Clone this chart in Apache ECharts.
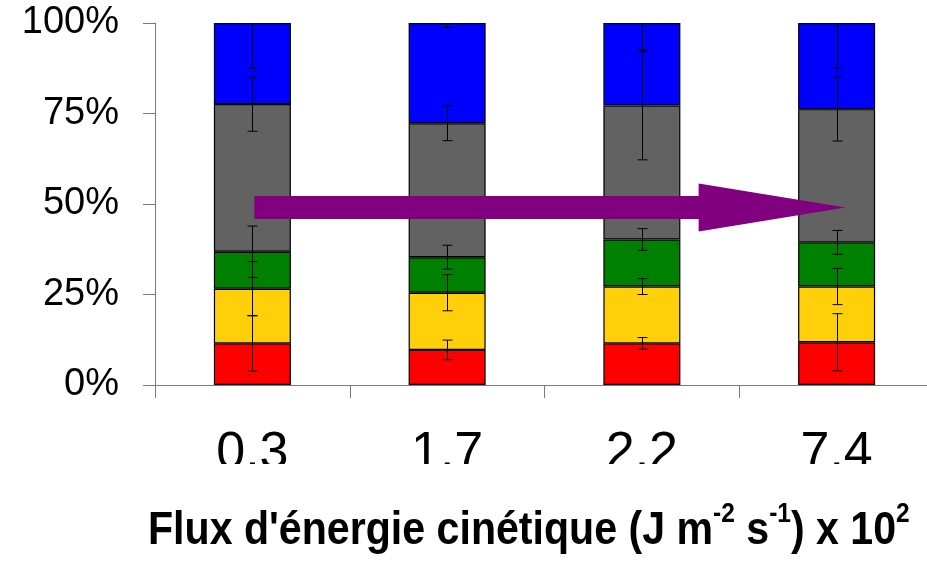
<!DOCTYPE html>
<html>
<head>
<meta charset="utf-8">
<title>Flux d'énergie cinétique</title>
<script src="https://cdn.jsdelivr.net/npm/echarts@6/dist/echarts.min.js"></script>
<style>
    html, body { margin: 0; padding: 0; background: #fff; overflow: hidden; }
    /* the original plot runs a few pixels past the right edge of the picture */
    #chart { width: 934px; height: 564px; }
</style>
</head>
<body>
<div id="chart"></div>
<script type="text/javascript">
    // x categories (flux x 10^2)
    var categories = ['0.3', '1.7', '2.2', '7.4'];

    // stacked shares (%), bottom to top
    var redValues    = [11.5,  9.7, 11.5, 11.8];
    var yellowValues = [15.1, 15.8, 15.7, 15.4];
    var greenValues  = [10.2,  9.8, 13.0, 12.2];
    var greyValues   = [40.8, 37.0, 37.0, 36.8];
    var blueValues   = [22.4, 27.7, 22.8, 23.8];

    // error bar half-widths (%), drawn at the top of each segment
    var redErr    = [7.7, 2.7, 1.6, 7.9];
    var yellowErr = [7.5, 5.0, 2.2, 5.0];
    var greenErr  = [7.1, 3.3, 3.0, 3.3];
    var greyErr   = [7.5, 4.8, 15.0, 8.8];
    var blueErr   = [12.5, 1.2, 7.5, 12.5];

    // level of the trend arrow (%)
    var arrowLevel = 49;

    var layers = [
        { name: 'rouge', color: '#ff0000', values: redValues, err: redErr },
        { name: 'jaune', color: '#ffd00a', values: yellowValues, err: yellowErr },
        { name: 'vert', color: '#008000', values: greenValues, err: greenErr },
        { name: 'gris', color: '#626262', values: greyValues, err: greyErr },
        { name: 'bleu', color: '#0000ff', values: blueValues, err: blueErr }
    ];

    var errData = [];
    categories.forEach(function (c, i) {
        var top = 0;
        layers.forEach(function (l) {
            top += l.values[i];
            errData.push([i, top, l.err[i]]);
        });
    });

    var axisColor = '#7a7a7a';
    var labelFont = "'Liberation Sans', Arial, sans-serif";

    function renderErr(params, api) {
        var i = api.value(0), top = api.value(1), e = api.value(2);
        var hi = Math.min(top + e, 100), lo = Math.max(top - e, 0);
        var pHi = api.coord([i, hi]), pLo = api.coord([i, lo]);
        var x = Math.round(pHi[0]) + 0.5;
        var half = 5;
        var st = { stroke: '#000', lineWidth: 1 };
        var kids = [{ type: 'line', shape: { x1: x, y1: pHi[1], x2: x, y2: pLo[1] }, style: st }];
        if (top + e < 99.9) {
            kids.push({ type: 'line', shape: { x1: x - half, y1: pHi[1], x2: x + half, y2: pHi[1] }, style: st });
        }
        if (top - e > 0) {
            kids.push({ type: 'line', shape: { x1: x - half, y1: pLo[1], x2: x + half, y2: pLo[1] }, style: st });
        }
        return { type: 'group', children: kids };
    }

    var series = layers.map(function (l) {
        return {
            name: l.name,
            type: 'bar',
            stack: 'total',
            barWidth: 77,
            data: l.values,
            itemStyle: { color: l.color, borderColor: '#000', borderWidth: 1.2 }
        };
    });
    series.push({
        name: 'erreur',
        type: 'custom',
        renderItem: renderErr,
        data: errData,
        z: 5
    });

    var chart = echarts.init(document.getElementById('chart'), null, { renderer: 'canvas' });
    chart.setOption({
        animation: false,
        backgroundColor: '#fff',
        grid: { left: 155, right: 0, top: 23, bottom: 179 },
        xAxis: {
            type: 'category',
            data: categories,
            axisLine: { lineStyle: { color: axisColor, width: 1 } },
            axisTick: { show: true, length: 13, lineStyle: { color: axisColor } },
            axisLabel: {
                fontFamily: labelFont,
                fontSize: 52,
                margin: 43,
                color: '#000'
            }
        },
        yAxis: {
            type: 'value',
            min: 0,
            max: 100,
            interval: 25,
            axisLine: { show: true, lineStyle: { color: axisColor, width: 1 } },
            axisTick: { show: true, length: 12, lineStyle: { color: axisColor } },
            splitLine: { show: false },
            axisLabel: {
                formatter: '{value}%',
                fontFamily: labelFont,
                fontSize: 38,
                margin: 36,
                color: '#000'
            }
        },
        series: series
    });

    // trend arrow, placed from the data coordinates of the first and last bars
    var p0 = chart.convertToPixel({ xAxisIndex: 0, yAxisIndex: 0 }, [0, arrowLevel]);
    var p1 = chart.convertToPixel({ xAxisIndex: 0, yAxisIndex: 0 }, [3, arrowLevel]);
    var tailX = p0[0] + 2, tipX = p1[0] + 9, baseX = tipX - 147, y = p0[1];
    chart.setOption({
        graphic: [
            {
                type: 'polygon',
                z: 50,
                shape: {
                    points: [
                        [tailX, y - 11.5], [baseX, y - 11.5], [baseX, y - 24], [tipX, y],
                        [baseX, y + 24], [baseX, y + 11.5], [tailX, y + 11.5]
                    ]
                },
                style: { fill: '#800080' }
            },
            {
                // the tick labels are cut off at the bottom in the original
                type: 'rect',
                z: 60,
                shape: { x: 140, y: 464, width: 800, height: 34 },
                style: { fill: '#fff' }
            },
            {
                // axis title, set in a narrow bold face in the original
                type: 'text',
                z: 70,
                x: 148,
                y: 500,
                scaleX: 0.875,
                style: {
                    text: "Flux d'énergie cinétique (J m{sup|-2} s{sup|-1}) x 10{sup|2}",
                    fontFamily: labelFont,
                    fontWeight: 'bold',
                    fontSize: 47,
                    lineHeight: 62,
                    fill: '#000',
                    verticalAlign: 'top',
                    rich: {
                        sup: {
                            fontFamily: labelFont,
                            fontWeight: 'bold',
                            fontSize: 28,
                            lineHeight: 22,
                            verticalAlign: 'top',
                            fill: '#000'
                        }
                    }
                }
            }
        ]
    });
</script>
</body>
</html>
